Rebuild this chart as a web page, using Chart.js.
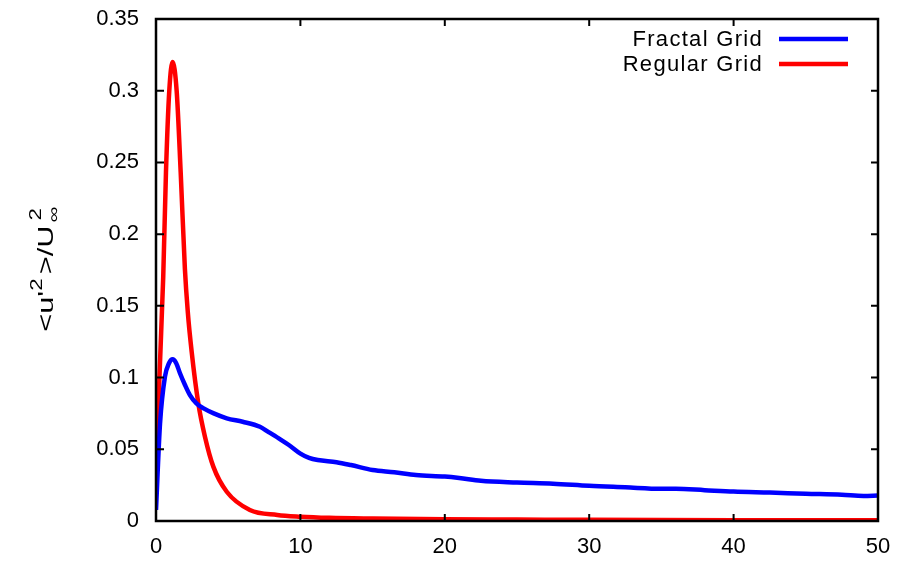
<!DOCTYPE html>
<html>
<head>
<meta charset="utf-8">
<script src="https://cdn.jsdelivr.net/npm/chart.js@4"></script>
<style>
  html, body { margin: 0; padding: 0; background: #fff; }
  #wrap { width: 899px; height: 563px; }
</style>
</head>
<body>
<div id="wrap"><canvas id="chart" width="899" height="563"></canvas></div>
<script>
// values
const fractalX = [0, 0.28, 0.62, 0.9, 1.15, 1.4, 1.66, 2.0, 2.35, 2.8, 3.3, 4.0, 4.9, 6.0, 7.2, 7.8, 8.5, 9.2, 10, 10.6, 11.2, 12.5, 13.5, 15, 16.5, 18, 20, 21, 22.5, 25, 27.5, 30, 32.5, 35, 36, 38, 40, 42.5, 45, 47.5, 49, 50];
const fractalY = [0.0077, 0.068, 0.1006, 0.110, 0.1127, 0.110, 0.103, 0.095, 0.0878, 0.082, 0.0785, 0.075, 0.0716, 0.0692, 0.0657, 0.062, 0.0576, 0.053, 0.047, 0.044, 0.0425, 0.041, 0.039, 0.0355, 0.034, 0.032, 0.031, 0.030, 0.028, 0.0268, 0.026, 0.0245, 0.0235, 0.0225, 0.0225, 0.0215, 0.0205, 0.0198, 0.019, 0.0183, 0.0175, 0.0178];

const regularX = [0, 0.23, 0.5, 0.69, 0.92, 1.15, 1.43, 1.71, 2.0, 2.2, 2.47, 2.93, 3.39, 3.97, 4.9, 6.5, 8.4, 10, 12, 15, 20, 25, 30, 40, 50];
const regularY = [0.019, 0.098, 0.170, 0.243, 0.300, 0.320, 0.300, 0.243, 0.176, 0.146, 0.118, 0.082, 0.0588, 0.0379, 0.0204, 0.0077, 0.0042, 0.003, 0.0022, 0.0017, 0.0012, 0.001, 0.0008, 0.0006, 0.0005];

const seriesNames = ['Fractal Grid', 'Regular Grid'];
const seriesColors = ['#0000ff', '#ff0000'];
const xTicks = [0, 10, 20, 30, 40, 50];
const yTicks = [0, 0.05, 0.1, 0.15, 0.2, 0.25, 0.3, 0.35];

const FONT = '"Liberation Sans", Arial, sans-serif';

function toPoints(xs, ys) {
  return xs.map((x, i) => ({ x: x, y: ys[i] }));
}

// gnuplot-like frame, inner mirrored tics, legend and y title
const gnuplotLook = {
  id: 'gnuplotLook',
  afterDraw(chart) {
    const ctx = chart.ctx;
    const a = chart.chartArea;
    const xs = chart.scales.x, ys = chart.scales.y;
    ctx.save();
    ctx.strokeStyle = '#000';
    ctx.lineWidth = 2;
    xTicks.forEach(v => {
      const px = xs.getPixelForValue(v);
      ctx.beginPath();
      ctx.moveTo(px, a.bottom); ctx.lineTo(px, a.bottom - 7);
      ctx.moveTo(px, a.top); ctx.lineTo(px, a.top + 7);
      ctx.stroke();
    });
    yTicks.forEach(v => {
      const py = ys.getPixelForValue(v);
      ctx.beginPath();
      ctx.moveTo(a.left, py); ctx.lineTo(a.left + 8, py);
      ctx.moveTo(a.right, py); ctx.lineTo(a.right - 7, py);
      ctx.stroke();
    });
    ctx.lineWidth = 2.5;
    ctx.strokeRect(a.left, a.top, a.right - a.left, a.bottom - a.top);

    // legend
    ctx.font = '22px ' + FONT;
    ctx.fillStyle = '#000';
    ctx.textAlign = 'right';
    ctx.textBaseline = 'middle';
    if ('letterSpacing' in ctx) ctx.letterSpacing = '1.3px';
    seriesNames.forEach((name, i) => {
      const y = 39 + i * 25;
      ctx.fillText(name, 763, y + 1);
      ctx.strokeStyle = seriesColors[i];
      ctx.lineWidth = 4.5;
      ctx.beginPath();
      ctx.moveTo(779, y); ctx.lineTo(848, y);
      ctx.stroke();
    });
    if ('letterSpacing' in ctx) ctx.letterSpacing = '0px';

    // y axis title: <u'^2>/U_inf^2 (text stretched along its run like the original)
    ctx.translate(53, 270);
    ctx.rotate(-Math.PI / 2);
    ctx.scale(1.4, 1);
    ctx.textAlign = 'left';
    ctx.textBaseline = 'alphabetic';
    const big = '22px ' + FONT, small = '16px ' + FONT;
    const parts = [
      ['<u\'', big, 0, 0], ['2', small, -11, 3], ['>/U', big, 0, 2], ['\u221e', small, 6, -10], ['2', small, -12, 0]
    ];
    let total = 0;
    parts.forEach(p => { ctx.font = p[1]; total += ctx.measureText(p[0]).width + p[3]; });
    let x = -total / 2;
    parts.forEach(p => {
      ctx.font = p[1];
      ctx.fillText(p[0], x, p[2]);
      x += ctx.measureText(p[0]).width + p[3];
    });
    ctx.restore();
  }
};

new Chart(document.getElementById('chart'), {
  type: 'line',
  data: {
    datasets: [
      {
        label: seriesNames[0],
        data: toPoints(fractalX, fractalY),
        borderColor: seriesColors[0],
        borderWidth: 4.5,
        pointRadius: 0,
        cubicInterpolationMode: 'monotone',
        fill: false
      },
      {
        label: seriesNames[1],
        data: toPoints(regularX, regularY),
        borderColor: seriesColors[1],
        borderWidth: 4.5,
        pointRadius: 0,
        cubicInterpolationMode: 'monotone',
        fill: false
      }
    ]
  },
  options: {
    responsive: false,
    animation: false,
    devicePixelRatio: 1,
    layout: { padding: { top: 19, right: 21, left: 0, bottom: 0 } },
    plugins: { legend: { display: false }, tooltip: { enabled: false } },
    scales: {
      x: {
        type: 'linear',
        min: 0, max: 50,
        grid: { display: false, drawTicks: false },
        border: { display: false },
        afterFit: s => { s.height = 42; s.paddingLeft = 0; s.paddingRight = 0; },
        afterBuildTicks: s => { s.ticks = xTicks.map(v => ({ value: v })); },
        ticks: { color: '#000', font: { family: FONT, size: 22 }, padding: 13, maxRotation: 0 }
      },
      y: {
        min: 0, max: 0.35,
        grid: { display: false, drawTicks: false },
        border: { display: false },
        afterFit: s => { s.width = 156; s.paddingTop = 0; s.paddingBottom = 0; },
        afterBuildTicks: s => { s.ticks = yTicks.map(v => ({ value: v })); },
        ticks: {
          color: '#000', font: { family: FONT, size: 22 }, padding: 17,
          callback: v => String(Math.round(v * 100) / 100)
        }
      }
    }
  },
  plugins: [gnuplotLook]
});
</script>
</body>
</html>
